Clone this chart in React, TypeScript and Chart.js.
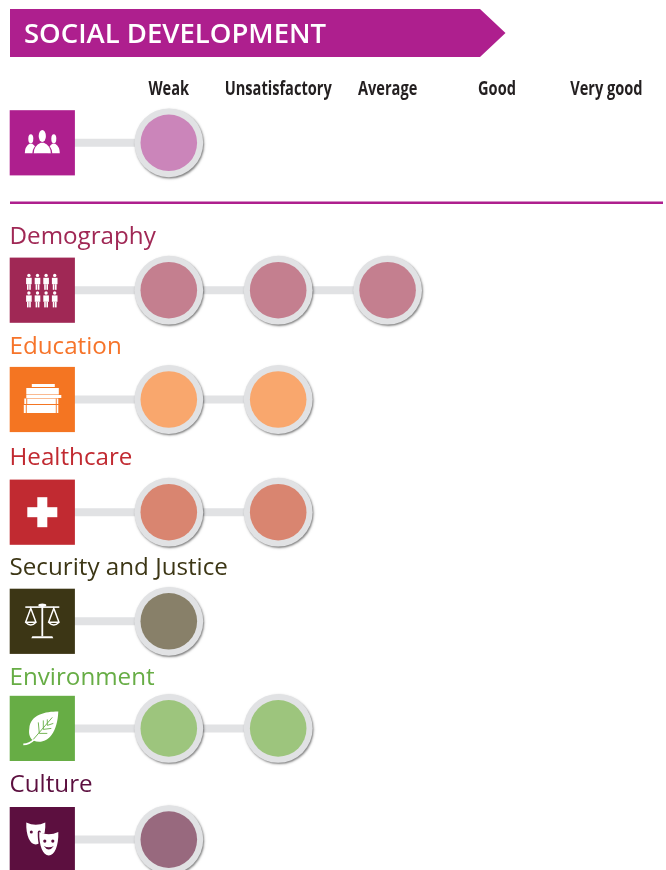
import React, { useEffect, useRef } from "react";
import { Chart, registerables, LinearScale } from "chart.js";

// ---------- data ----------
const heading = "SOCIAL DEVELOPMENT";
const levelNames = ["Weak", "Unsatisfactory", "Average", "Good", "Very good"];
const rowNames = ["", "Demography", "Education", "Healthcare", "Security and Justice", "Environment", "Culture"];
const rowLevels = [1, 3, 2, 2, 1, 2, 1];
const rowIcons = ["people", "crowd", "books", "cross", "scales", "leaf", "masks"];

// ---------- styles and layout ----------
const strongColours = ["#ae1f8e", "#a02855", "#f47522", "#c12a31", "#3c3615", "#67ad45", "#5c0f3f"];
const titleColours = ["#ae1f8e", "#a02855", "#f6742a", "#c12a31", "#3c3615", "#67ad45", "#5c0f3f"];
const softColours = ["#cb85ba", "#c47f8f", "#f9a76d", "#d98570", "#888069", "#9dc57d", "#98697e"];
const rowCentres = [142.8, 290.2, 399.5, 512.2, 621.3, 728.4, 839.6];
const titleBaselines = [0, 243.5, 353.5, 464.5, 574.5, 684.5, 791.5];
const GREY = "#e1e2e4";
const W = 666;
const H = 870;

class RowScale extends LinearScale {
  static id = "rows";
  static defaults = LinearScale.defaults;
  getPixelForValue(value: number) {
    return rowCentres[Math.round(value)];
  }
}
Chart.register(...registerables, RowScale as any);

function ellipse(c: CanvasRenderingContext2D, x: number, y: number, rx: number, ry: number) {
  c.beginPath();
  c.ellipse(x, y, rx, ry, 0, 0, Math.PI * 2);
  c.fill();
}
function poly(c: CanvasRenderingContext2D, pts: number[][]) {
  c.beginPath();
  pts.forEach((p, i) => (i ? c.lineTo(p[0], p[1]) : c.moveTo(p[0], p[1])));
  c.closePath();
  c.fill();
}

const iconPainters: Record<string, (c: CanvasRenderingContext2D, bg: string) => void> = {
  people(c, bg) {
    const body = (x: number, top: number, hw: number, bottom: number) => {
      c.beginPath();
      c.moveTo(x - hw, bottom);
      c.quadraticCurveTo(x - hw, top + 3, x - 1.5, top);
      c.lineTo(x + 1.5, top);
      c.quadraticCurveTo(x + hw, top + 3, x + hw, bottom);
      c.closePath();
      c.fill();
    };
    ellipse(c, -11.5, -4, 2.5, 4.6);
    ellipse(c, 11.5, -4, 2.5, 4.6);
    body(-11.5, 1, 6, 10.5);
    body(11.5, 1, 6, 10.5);
    c.fillStyle = bg;
    ellipse(c, 0, -5, 5, 8);
    body(0, 0, 10, 11);
    c.fillStyle = "#fff";
    ellipse(c, 0, -6.8, 3.6, 6);
    body(0, 0, 8.5, 10.5);
  },
  crowd(c) {
    for (const dy of [-8.8, 8.8]) {
      for (const dx of [-13.4, -4.8, 3.8, 12.4]) {
        ellipse(c, dx, dy - 6, 1.7, 1.7);
        c.fillRect(dx - 2.8, dy - 3.6, 5.6, 6.4);
        c.fillRect(dx - 1.9, dy + 2.8, 1.6, 5.6);
        c.fillRect(dx + 0.3, dy + 2.8, 1.6, 5.6);
      }
    }
  },
  books(c, bg) {
    c.fillRect(-10.5, -15.5, 23, 3);
    c.fillRect(-16, -11.5, 32.5, 6.5);
    c.fillRect(-16, -4.5, 35, 3);
    c.fillRect(-18, -1, 34, 5.5);
    c.fillRect(-18.5, 5.5, 34.5, 8);
    c.fillStyle = bg;
    c.fillRect(-16, -1, 0.9, 5.5);
    c.fillRect(-16.5, 5.5, 0.9, 8);
    c.fillRect(13.5, 5.5, 0.9, 8);
    c.fillRect(13.5, -1, 0.9, 5.5);
  },
  cross(c) {
    c.fillRect(-5, -15, 10, 30);
    c.fillRect(-15, -5, 30, 10);
  },
  scales(c) {
    c.strokeStyle = "#fff";
    c.lineWidth = 1.5;
    c.fillRect(-0.9, -16, 1.8, 31);
    c.beginPath();
    c.ellipse(0, -16, 4, 1.7, 0, 0, Math.PI * 2);
    c.fill();
    c.fillRect(-17, -15, 34, 1.6);
    poly(c, [[-10, 15], [10, 15], [11, 17], [-11, 17]]);
    for (const s of [-1, 1]) {
      const x = s * 11.5;
      c.beginPath();
      c.moveTo(x, -13);
      c.lineTo(x - 5.2, 1);
      c.quadraticCurveTo(x, 6.5, x + 5.2, 1);
      c.closePath();
      c.moveTo(x - 5.2, 1);
      c.lineTo(x + 5.2, 1);
      c.stroke();
    }
  },
  leaf(c, bg) {
    c.beginPath();
    c.moveTo(16, -17);
    c.bezierCurveTo(3, -17, -12, -14, -13, 0);
    c.bezierCurveTo(-14, 6, -12, 10, -9, 12);
    c.bezierCurveTo(2, 17, 15, 8, 16, -17);
    c.closePath();
    c.fill();
    c.strokeStyle = "#fff";
    c.lineWidth = 1.6;
    c.beginPath();
    c.moveTo(-8, 11);
    c.quadraticCurveTo(-13, 16, -19, 16);
    c.stroke();
    c.strokeStyle = bg;
    c.lineWidth = 0.9;
    const veins = [[-9, 11, 10, -11], [-3, 5, -4, -6], [1, 1, 1, -8], [5, -3, 5, -9], [-3, 5, 5, 5], [1, 1, 9, 0], [5, -3, 11, -5]];
    veins.forEach((v) => {
      c.beginPath();
      c.moveTo(v[0], v[1]);
      c.lineTo(v[2], v[3]);
      c.stroke();
    });
  },
  masks(c, bg) {
    const face = (x: number, y: number, hw: number, h: number) => {
      c.beginPath();
      c.moveTo(x - hw, y - 2);
      c.quadraticCurveTo(x, y + 2.5, x + hw, y - 2);
      c.bezierCurveTo(x + hw + 0.5, y + h * 0.55, x + hw * 0.6, y + h, x, y + h);
      c.bezierCurveTo(x - hw * 0.6, y + h, x - hw - 0.5, y + h * 0.55, x - hw, y - 2);
      c.closePath();
      c.fill();
    };
    face(-6.5, -15, 9.5, 20);
    c.fillStyle = bg;
    ellipse(c, -11, -7.5, 1.5, 1.5);
    ellipse(c, -3, -7.5, 1.5, 1.5);
    face(6.5, -5.5, 11, 23);
    c.fillStyle = "#fff";
    face(6.5, -5.5, 9.5, 21.5);
    c.fillStyle = bg;
    ellipse(c, 2.5, 1.5, 1.6, 1.6);
    ellipse(c, 10.5, 1.5, 1.6, 1.6);
    c.beginPath();
    c.moveTo(1.5, 6.5);
    c.quadraticCurveTo(6.5, 13.5, 11.5, 6.5);
    c.quadraticCurveTo(6.5, 9, 1.5, 6.5);
    c.fill();
  },
};

const decorations = {
  id: "decorations",
  beforeDatasetDraw(chart: any, args: any) {
    if (chart.data.datasets[args.index].label === "ring") {
      const c = chart.ctx;
      c.save();
      c.shadowColor = "rgba(0,0,0,0.5)";
      c.shadowBlur = 2.2;
      c.shadowOffsetX = 1;
      c.shadowOffsetY = 1.3;
    }
  },
  afterDatasetDraw(chart: any, args: any) {
    if (chart.data.datasets[args.index].label === "ring") chart.ctx.restore();
  },
  afterDraw(chart: any) {
    const c: CanvasRenderingContext2D = chart.ctx;
    const yScale = chart.scales.y;
    const xScale = chart.scales.x;
    c.save();
    // banner
    c.fillStyle = strongColours[0];
    poly(c, [[10, 9], [480, 9], [505.5, 33], [480, 57], [10, 57]]);
    c.fillStyle = "#fff";
    c.textBaseline = "alphabetic";
    c.textAlign = "left";
    c.font = "600 27.5px 'Open Sans'";
    c.fillText(heading, 24, 42.5);
    // level names, one per tick of the x scale
    c.fillStyle = "#231f20";
    c.font = "bold 20px 'Open Sans'";
    c.textAlign = "center";
    levelNames.forEach((name, i) => {
      c.save();
      c.translate(xScale.getPixelForValue(i + 1), 94.8);
      c.scale(0.73, 1);
      c.fillText(name, 0, 0);
      c.restore();
    });
    c.textAlign = "left";
    // divider
    c.fillStyle = strongColours[0];
    c.fillRect(10, 201.5, 653, 2.5);
    // rows
    rowNames.forEach((name, i) => {
      const cy = yScale.getPixelForValue(i);
      c.fillStyle = strongColours[i];
      c.fillRect(9.7, cy - 32.6, 65.2, 65.2);
      c.save();
      c.translate(42.3, cy);
      c.fillStyle = "#fff";
      iconPainters[rowIcons[i]](c, strongColours[i]);
      c.restore();
      if (name) {
        c.fillStyle = titleColours[i];
        c.font = "24.2px 'Open Sans'";
        c.fillText(name, 9.5, titleBaselines[i]);
      }
    });
    c.restore();
  },
};

export default function App() {
  const ref = useRef<HTMLCanvasElement>(null);
  useEffect(() => {
    const lines = rowLevels.map((level, row) => ({
      type: "line",
      label: "link",
      order: 3,
      clip: false,
      data: Array.from({ length: level + 1 }, (_, k) => ({ x: k, y: row })),
      borderColor: GREY,
      borderWidth: 8,
      pointRadius: 0,
      borderCapStyle: "butt",
      tension: 0,
    }));
    const marks = rowLevels.flatMap((level, row) =>
      Array.from({ length: level }, (_, k) => ({ x: k + 1, y: row, row }))
    );
    const chart = new Chart(ref.current as HTMLCanvasElement, {
      type: "line",
      data: {
        datasets: [
          {
            label: "fill",
            order: 1,
            clip: false,
            data: marks,
            showLine: false,
            pointRadius: 28.3,
            pointHoverRadius: 28.3,
            pointBorderWidth: 0,
            pointBackgroundColor: marks.map((m) => softColours[m.row]),
          },
          {
            label: "ring",
            order: 2,
            clip: false,
            data: marks,
            showLine: false,
            pointRadius: 34.4,
            pointHoverRadius: 34.4,
            pointBorderWidth: 0,
            pointBackgroundColor: GREY,
          },
          ...lines,
        ] as any,
      },
      options: {
        animation: false,
        responsive: false,
        events: [],
        layout: { autoPadding: false, padding: 0 },
        plugins: { legend: { display: false }, tooltip: { enabled: false }, title: { display: false } },
        scales: {
          x: {
            type: "linear",
            position: "top",
            display: true,
            min: -0.543,
            max: 5.545,
            grid: { display: false, drawTicks: false },
            border: { display: false },
            afterBuildTicks: (s: any) => {
              s.ticks = levelNames.map((_, i) => ({ value: i + 1 }));
            },
            afterFit: (s: any) => {
              s.height = 0;
            },
            ticks: { display: false, autoSkip: false },
          },
          y: { type: "rows", display: false, min: 0, max: 6 } as any,
        },
      } as any,
      plugins: [decorations as any],
    });
    return () => chart.destroy();
  }, []);
  return (
    <div style={{ position: "absolute", left: 0, top: 0, width: W, height: H, overflow: "hidden", background: "#fff" }}>
      <canvas ref={ref} width={W} height={H} style={{ display: "block" }} />
    </div>
  );
}
